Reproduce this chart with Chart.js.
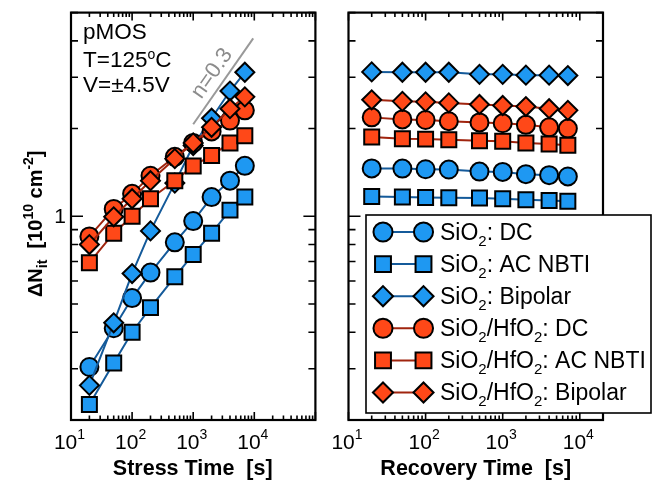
<!DOCTYPE html>
<html><head><meta charset="utf-8">
<script src="https://cdn.jsdelivr.net/npm/chart.js@4/dist/chart.umd.min.js"></script>
<style>
html,body{margin:0;padding:0;background:#fff;}
#wrap{position:relative;width:657px;height:483px;overflow:hidden;}
#c1{position:absolute;left:0;top:0;}
#c2{position:absolute;left:328px;top:0;}
</style></head><body>
<div id="wrap"><canvas id="c1" width="328" height="483"></canvas><canvas id="c2" width="329" height="483"></canvas></div>
<script>
// ---------------- data ----------------
const stressTime   = [20, 50, 100, 200, 500, 1000, 2000, 4000, 7000];
const recoveryTime = [20, 50, 100, 200, 500, 1000, 2000, 4000, 7000];
const seriesNames = ['SiO2: DC', 'SiO2: AC NBTI', 'SiO2: Bipolar',
                     'SiO2/HfO2: DC', 'SiO2/HfO2: AC NBTI', 'SiO2/HfO2: Bipolar'];
// stress phase (left panel), ΔNit in 1e10 cm^-2
const stressSiO2DC  = [0.304, 0.413, 0.524, 0.641, 0.814, 0.963, 1.164, 1.325, 1.49];
const stressSiO2AC  = [0.226, 0.314, 0.400, 0.486, 0.620, 0.740, 0.875, 1.05, 1.164];
const stressSiO2Bip = [0.263, 0.431, 0.636, 0.891, 1.30, 1.75, 2.17, 2.69, 3.12];
const stressHfDC    = [0.853, 1.06, 1.194, 1.378, 1.60, 1.786, 1.955, 2.13, 2.31];
const stressHfAC    = [0.693, 0.875, 1.0, 1.149, 1.325, 1.489, 1.617, 1.786, 1.89];
const stressHfBip   = [0.80, 0.996, 1.149, 1.325, 1.577, 1.786, 2.02, 2.34, 2.57];
// recovery phase (right panel)
const recSiO2DC  = [1.46, 1.458, 1.45, 1.447, 1.424, 1.42, 1.395, 1.384, 1.37];
const recSiO2AC  = [1.170, 1.164, 1.161, 1.157, 1.155, 1.148, 1.14, 1.134, 1.126];
const recSiO2Bip = [3.13, 3.12, 3.12, 3.12, 3.07, 3.07, 3.05, 3.05, 3.04];
const recHfDC    = [2.185, 2.15, 2.14, 2.12, 2.10, 2.085, 2.06, 2.02, 2.0];
const recHfAC    = [1.87, 1.845, 1.84, 1.83, 1.818, 1.81, 1.785, 1.77, 1.754];
const recHfBip   = [2.51, 2.48, 2.47, 2.45, 2.42, 2.40, 2.38, 2.34, 2.31];
// n = 0.3 guide line
const nLineTime  = [1000, 9600];
const nLineValue = [2.07, 4.08];
// labelled ticks
const xTickDecades = [10, 100, 1000, 10000];
const yTickLabels  = [1];
const annotations  = ['pMOS', 'T=125', 'V=\u00B14.5V'];

// ---------------- styles ----------------
const FONT = "'Liberation Sans', Arial, Helvetica, sans-serif";
const BLUE = '#1E98F2', BLUE_LINE = '#145A9A';
const RED = '#FF4818', RED_LINE = '#A0240E';
const styles = [
  {shape:'circle',  fill:BLUE, line:BLUE_LINE, r:9},
  {shape:'rect',    fill:BLUE, line:BLUE_LINE, r:10.6},
  {shape:'rectRot', fill:BLUE, line:BLUE_LINE, r:9.5},
  {shape:'circle',  fill:RED,  line:RED_LINE,  r:9},
  {shape:'rect',    fill:RED,  line:RED_LINE,  r:10.6},
  {shape:'rectRot', fill:RED,  line:RED_LINE,  r:9.5},
];

function fontStr(p){ return (p.bold ? 'bold ' : '') + p.size + 'px ' + FONT; }
function rich(ctx, parts, x, y, align, color){
  let w = 0;
  for (const p of parts){ ctx.font = fontStr(p); p.w = ctx.measureText(p.t).width; w += p.w; }
  let cx = align === 'center' ? x - w/2 : (align === 'right' ? x - w : x);
  ctx.textAlign = 'left'; ctx.textBaseline = 'alphabetic'; ctx.fillStyle = color || '#000';
  for (const p of parts){ ctx.font = fontStr(p); ctx.fillText(p.t, cx, y + (p.dy||0)); cx += p.w; }
  return w;
}
function nameParts(name, size){
  const parts = []; let buf = '';
  for (let i = 0; i < name.length; i++){
    const c = name[i];
    if (c === '2' && name[i-1] === 'O'){
      if (buf) parts.push({t:buf, size}); buf = '';
      parts.push({t:'2', size: Math.round(size*0.66), dy: 6});
    } else buf += c;
  }
  if (buf) parts.push({t:buf, size});
  return parts;
}
function logTicks(min, max){
  const out = [];
  for (let d = Math.floor(Math.log10(min)); d <= Math.ceil(Math.log10(max)); d++){
    for (let k = 1; k <= 9; k++){
      const v = k * Math.pow(10, d);
      if (v >= min*0.999 && v <= max*1.001) out.push({v, major: k === 1});
    }
  }
  return out;
}
function drawMarker(ctx, shape, x, y, r, fill){
  ctx.beginPath();
  if (shape === 'circle') ctx.arc(x, y, r, 0, Math.PI*2);
  else if (shape === 'rect'){ const s = r*Math.SQRT1_2; ctx.rect(x-s, y-s, 2*s, 2*s); }
  else { ctx.moveTo(x-r, y); ctx.lineTo(x, y-r); ctx.lineTo(x+r, y); ctx.lineTo(x, y+r); ctx.closePath(); }
  ctx.fillStyle = fill; ctx.fill();
  ctx.lineWidth = 2; ctx.strokeStyle = '#000'; ctx.stroke();
}

function makeDatasets(times, arrays){
  return arrays.map((arr, i) => ({
    label: seriesNames[i],
    data: arr.map((v, j) => ({x: times[j], y: v})),
    borderColor: styles[i].line,
    borderWidth: 2,
    backgroundColor: styles[i].fill,
    pointStyle: styles[i].shape,
    pointRadius: styles[i].r,
    pointBackgroundColor: styles[i].fill,
    pointBorderColor: '#000',
    pointBorderWidth: 2,
    fill: false,
    tension: 0,
    clip: false,
    order: 10 - i
  }));
}

const frameTicks = {
  id: 'frameTicks',
  beforeDatasetsDraw(chart){
    const {ctx, chartArea: a, scales: {x, y}} = chart;
    ctx.save();
    ctx.strokeStyle = '#000'; ctx.lineWidth = 1.6; ctx.lineCap = 'butt';
    ctx.beginPath();
    for (const t of logTicks(x.min, x.max)){
      const px = x.getPixelForValue(t.v), len = t.major ? 8 : 4.5;
      ctx.moveTo(px, a.bottom); ctx.lineTo(px, a.bottom - len);
      ctx.moveTo(px, a.top); ctx.lineTo(px, a.top + len);
    }
    for (const t of logTicks(y.min, y.max)){
      const py = y.getPixelForValue(t.v), len = t.major ? 12 : 7;
      ctx.moveTo(a.left, py); ctx.lineTo(a.left + len, py);
      ctx.moveTo(a.right, py); ctx.lineTo(a.right - len, py);
    }
    ctx.stroke();
    ctx.lineWidth = 2.2;
    ctx.strokeRect(a.left, a.top, a.right - a.left, a.bottom - a.top);
    ctx.restore();
  },
  afterDraw(chart){
    const {ctx, scales: {x}} = chart;
    ctx.save();
    for (const v of xTickDecades){
      const px = x.getPixelForValue(v);
      rich(ctx, [{t:'10', size:21}, {t:String(Math.round(Math.log10(v))), size:14, dy:-10}], px - 1.5, 449, 'center');
    }
    ctx.restore();
  }
};

const leftDecor = {
  id: 'leftDecor',
  afterDraw(chart){
    const {ctx, scales: {x, y}} = chart;
    ctx.save();
    for (const v of yTickLabels){
      const py = y.getPixelForValue(v);
      rich(ctx, [{t:String(v), size:21}], 66, py + 7, 'right');
    }
    // annotations
    rich(ctx, [{t:annotations[0], size:22.5}], 83, 38.5, 'left');
    rich(ctx, [{t:annotations[1], size:22.5}, {t:'o', size:14, dy:-8}, {t:'C', size:22.5}], 83, 66.5, 'left');
    rich(ctx, [{t:annotations[2], size:22.5}], 83, 91.5, 'left');
    // n=0.3 label along guide line
    const pts = chart.getDatasetMeta(6).data;
    const x0 = pts[0].x, y0 = pts[0].y, x1 = pts[1].x, y1 = pts[1].y;
    const len = Math.hypot(x1-x0, y1-y0), dx = (x1-x0)/len, dy = (y1-y0)/len;
    const mx = (x0+x1)/2 + 13.5*dy, my = (y0+y1)/2 - 13.5*dx;
    ctx.translate(mx, my); ctx.rotate(Math.atan2(y1-y0, x1-x0));
    ctx.font = '22px ' + FONT; ctx.fillStyle = '#8C8C8C'; ctx.textAlign = 'center'; ctx.textBaseline = 'middle';
    ctx.fillText('n=0.3', 0, 0);
    ctx.restore();
    // axis titles
    ctx.save();
    rich(ctx, [{t:'Stress Time  [s]', size:21.5, bold:true}], (chart.chartArea.left + chart.chartArea.right)/2 - 0.5, 475, 'center');
    ctx.translate(42, 297); ctx.rotate(-Math.PI/2);
    rich(ctx, [{t:'\u0394N', size:20, bold:true}, {t:'it', size:14, bold:true, dy:5},
               {t:'  [10', size:20, bold:true}, {t:'10', size:14, bold:true, dy:-9},
               {t:' cm', size:20, bold:true}, {t:'-2', size:14, bold:true, dy:-9},
               {t:']', size:20, bold:true}], 0, 0, 'left');
    ctx.restore();
  }
};

const rightDecor = {
  id: 'rightDecor',
  afterDraw(chart){
    const {ctx} = chart;
    ctx.save();
    rich(ctx, [{t:'Recovery Time  [s]', size:21.5, bold:true}], (chart.chartArea.left + chart.chartArea.right)/2, 475, 'center');
    // legend box
    const ox = -328;
    const bx = 366 + ox, by = 215, bw = 285, bh = 198;
    ctx.fillStyle = '#fff'; ctx.fillRect(bx, by, bw, bh);
    ctx.lineWidth = 1.6; ctx.strokeStyle = '#000'; ctx.strokeRect(bx, by, bw, bh);
    for (let i = 0; i < seriesNames.length; i++){
      const cy = 232 + i*32.1;
      const s = styles[i];
      ctx.beginPath(); ctx.moveTo(383 + ox, cy); ctx.lineTo(423.5 + ox, cy);
      ctx.strokeStyle = s.line; ctx.lineWidth = 2; ctx.stroke();
      const r = s.r * 1.06;
      drawMarker(ctx, s.shape, 383 + ox, cy, r, s.fill);
      drawMarker(ctx, s.shape, 423.5 + ox, cy, r, s.fill);
      rich(ctx, nameParts(seriesNames[i], 23), 440 + ox, cy + 7.5, 'left');
    }
    ctx.restore();
  }
};

const commonOpts = (padding, xmax) => ({
  responsive: false, animation: false, devicePixelRatio: 1,
  layout: {padding},
  plugins: {legend: {display: false}, tooltip: {enabled: false}},
  scales: {
    x: {type: 'logarithmic', min: 10, max: xmax, bounds: 'data', display: false},
    y: {type: 'logarithmic', min: 0.2, max: 5, bounds: 'data', display: false}
  }
});

const leftSets = makeDatasets(stressTime, [stressSiO2DC, stressSiO2AC, stressSiO2Bip, stressHfDC, stressHfAC, stressHfBip]);
leftSets.push({
  label: 'n=0.3',
  data: nLineTime.map((t, j) => ({x: t, y: nLineValue[j]})),
  borderColor: '#999999', borderWidth: 2, pointRadius: 0, fill: false, clip: false, order: 100
});

new Chart(document.getElementById('c1'), {
  type: 'line',
  data: {datasets: leftSets},
  options: commonOpts({left: 71, right: 2, top: 9, bottom: 63}, 1e5),
  plugins: [frameTicks, leftDecor]
});

new Chart(document.getElementById('c2'), {
  type: 'line',
  data: {datasets: makeDatasets(recoveryTime, [recSiO2DC, recSiO2AC, recSiO2Bip, recHfDC, recHfAC, recHfBip])},
  options: commonOpts({left: 20.5, right: 54, top: 9, bottom: 63}, 2e4),
  plugins: [frameTicks, rightDecor]
});
</script>
</body></html>
